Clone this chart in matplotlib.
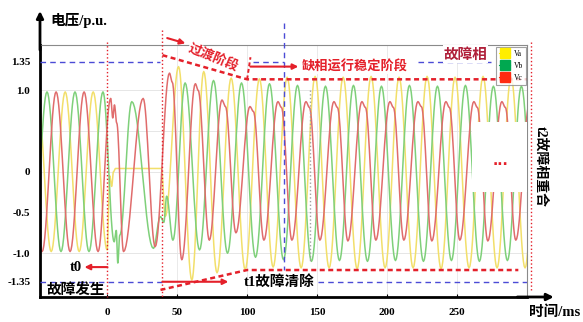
import numpy as np
import matplotlib
matplotlib.use('Agg')
import matplotlib.pyplot as plt
from matplotlib.lines import Line2D
from matplotlib.patches import Rectangle

CJK = 'Noto Sans CJK SC'
SERIF = 'Liberation Serif'
MIX = [SERIF, CJK]

# extreme points (time in ms, voltage in p.u.)
a_t = [-60, -50, -40, -30, -20, -10, 0, 1.8, 3.2, 4.5, 6, 38.8, 41.5,
       51, 60.5, 69, 78.5, 88.6, 98.6, 108.8,
       118.6, 128.6, 138.6, 148.6, 158.6, 168.6, 178.6, 188.6, 198.6, 208.6,
       218.6, 228.6, 238.6, 248.6, 258.6, 268.6, 278.6, 288.6, 298.6, 308.6]
a_v = [-0.98, 0.98, -0.98, 0.98, -0.98, 0.98, -0.96, -0.05, -0.18, 0.0, 0.04, 0.04, -0.55,
       1.29, -1.33, 1.23, -1.24, 1.15, -1.2, 1.14,
       -1.17, 1.16, -1.18, 1.17, -1.18, 1.16, -1.19, 1.17, -1.18, 1.16,
       -1.18, 1.17, -1.19, 1.16, -1.18, 1.17, -1.18, 1.16, -1.18, 1.16]

b_t = [-53, -43, -33, -23, -13, -3, 5, 6.5, 7.6, 9, 17.6, 33, 38, 40.5, 42.5, 47, 55.7,
       66, 76, 86, 96, 106, 116, 126, 136, 146, 156, 166, 176, 186, 196, 206,
       216, 226, 236, 246, 256, 266, 276, 286, 296, 306]
b_v = [-0.98, 0.98, -0.98, 0.98, -0.98, 0.98, -0.86, -0.72, -1.12, -0.78, 0.86, -0.94,
       -0.55, -0.62, -0.3, -0.84, 1.09,
       -0.96, 1.12, -1.0, 1.09, -1.05, 1.08, -1.08, 1.06, -1.1, 1.05, -1.09, 1.06, -1.1,
       1.05, -1.09, 1.06, -1.1, 1.05, -1.09, 1.06, -1.1, 1.05, -1.09, 1.05, -1.09]

c_t = [-56.5, -46.5, -36.5, -26.5, -16.5, -6.5,
       2.5, 4.0, 5.2, 6.8, 11.7, 25.7, 34.3,
       44.5, 46.5, 53.3, 63, 65, 73, 82, 84.5, 92, 102, 104.5, 112,
       122, 124.5, 132, 142, 144.5, 152, 162, 164.5, 172, 182, 184.5, 192,
       202, 204.5, 212, 222, 224.5, 232, 242, 244.5, 252, 262, 264.5, 272,
       282, 284.5, 292, 302, 304.5]
c_v = [0.98, -0.98, 0.98, -0.98, 0.98, -0.98,
       0.9, 0.66, 0.82, 0.6, -0.98, 0.9, -0.92,
       1.21, 1.1, -1.08, 1.08, 1.0, -0.84, 0.88, 0.8, -0.75, 0.8, 0.74, -0.84,
       0.86, 0.79, -0.84, 0.86, 0.79, -0.84, 0.86, 0.79, -0.85, 0.86, 0.79, -0.84,
       0.86, 0.79, -0.84, 0.86, 0.8, -0.85, 0.86, 0.79, -0.84, 0.86, 0.79, -0.85,
       0.86, 0.79, -0.84, 0.86, 0.79]

phases = ['Va', 'Vb', 'Vc']
line_colors = ['#f2df6a', '#7fd07a', '#e06c6c']
legend_colors = ['#ffee00', '#00a850', '#ff2a10']

t_fault = 0
t_clear = 39.5
t_stable = 126
t_reclose = 303

xticks = [0, 50, 100, 150, 200, 250]
yticks = [1.35, 1.0, 0, -0.5, -1.0, -1.35]
ytick_labels = ['1.35', '1.0', '0', '-0.5', '-1.0', '-1.35']

RED = '#e4202a'
BLUE = '#4b4bd6'


def smooth(ts, vs, n=16):
    assert len(ts) == len(vs)
    tt, vv = [], []
    for i in range(len(ts) - 1):
        s = np.linspace(0, 1, n, endpoint=False)
        w = (1 - np.cos(np.pi * s)) / 2
        tt.append(ts[i] + (ts[i + 1] - ts[i]) * s)
        vv.append(vs[i] + (vs[i + 1] - vs[i]) * w)
    tt.append([ts[-1]])
    vv.append([vs[-1]])
    return np.concatenate(tt), np.concatenate(vv)


fig = plt.figure(figsize=(5.83, 3.22), dpi=100)
ax = fig.add_axes([40 / 583, 25 / 322, 487 / 583, 252 / 322])
ax.set_xlim(-48, 300)
ax.set_ylim(-1.537, 1.555)

# faint grid
for g in [-1, -0.5, 0, 0.5, 1]:
    ax.axhline(g, color='#e2e2e2', lw=0.6, zorder=0)
for g in xticks[1:]:
    ax.axvline(g, color='#e6e6e6', lw=0.6, zorder=0)

for ts, vs, col in zip([a_t, b_t, c_t], [a_v, b_v, c_v], line_colors):
    x, y = smooth(ts, vs)
    ax.plot(x, y, color=col, lw=1.1, zorder=2)

# blank patch over the waveform
ax.add_patch(Rectangle((261, -0.25), 45, 0.86, facecolor='white', edgecolor='none', zorder=3))
ax.text(281, 0.13, '...', color=RED, fontsize=10, fontweight='bold', ha='center', va='center', zorder=4)

# reference levels
dash = (0, (4, 3))
for seg in [(-48, 38), (104, 126), (222, 274)]:
    ax.plot(seg, [1.35, 1.35], color=BLUE, lw=1, ls=dash, zorder=3)
for seg in [(-48, 39.5), (151, 300)]:
    ax.plot(seg, [-1.35, -1.35], color=BLUE, lw=1, ls=dash, zorder=3)
ax.plot([t_stable, t_stable], [1.82, -1.21], color=BLUE, lw=1, ls=dash, zorder=3, clip_on=False)
ax.plot([145, 145], [1.0, -1.12], color='#a0a0a0', lw=1, ls=':', zorder=3)

# event markers
ax.plot([t_fault, t_fault], [1.59, -1.537], color=RED, lw=1, ls=':', zorder=4, clip_on=False)
ax.plot([t_clear, t_clear], [1.74, -1.537], color=RED, lw=1, ls=':', zorder=4, clip_on=False)
ax.plot([t_reclose, t_reclose], [1.59, -1.48], color=RED, lw=1, ls=':', zorder=4, clip_on=False)

# envelope of the transition stage
env = (0, (2, 1.4))
ax.plot([t_clear, 100, 300], [1.43, 1.134, 1.134], color=RED, lw=1.8, ls=env, zorder=5)
ax.plot([100, 102.4], [1.134, 1.405], color=RED, lw=1.4, ls=env, zorder=5)
ax.plot([38.1, 100, 293.8], [-1.45, -1.206, -1.206], color=RED, lw=1.8, ls=env, zorder=5, clip_on=False)

arrow = dict(arrowstyle='-|>', color=RED, lw=1.5, mutation_scale=8, shrinkA=0, shrinkB=0)
ax.annotate('', xy=(-16.2, -1.17), xytext=(0.2, -1.17), arrowprops=arrow, zorder=6)
ax.annotate('', xy=(86.6, -1.35), xytext=(t_clear, -1.35), arrowprops=arrow, zorder=6)
ax.annotate('', xy=(136.6, 1.29), xytext=(102.4, 1.29), arrowprops=arrow, zorder=6)
ax.annotate('', xy=(55.9, 1.575), xytext=(42.9, 1.64), arrowprops=arrow, zorder=6,
            annotation_clip=False)

# labels
bold = dict(fontweight='bold')
white = dict(facecolor='white', edgecolor='none', pad=0.5)
ax.text(76, 1.395, '过渡阶段', color=RED, fontsize=9.5, family=CJK, rotation=-22,
        ha='center', va='center', bbox=white, zorder=4, **bold)
ax.text(139, 1.29, '缺相运行稳定阶段', color=RED, fontsize=9.5, family=CJK,
        ha='left', va='center', bbox=white, zorder=4, **bold)
ax.text(256, 1.445, '故障相', color='#b0203a', fontsize=10.5, family=CJK,
        ha='center', va='center', bbox=white, zorder=4, **bold)
ax.text(-22.5, -1.17, 't0', color='black', fontsize=10.5, family=SERIF,
        ha='center', va='center', zorder=6, **bold)
ax.text(-22.5, -1.445, '故障发生', color='black', fontsize=10.5, family=CJK,
        ha='center', va='center', zorder=6, **bold)
ax.text(123, -1.35, 't1故障清除', color='black', fontsize=10.5, family=MIX,
        ha='center', va='center', zorder=6, **bold)
ax.text(309.5, 0.06, 't2故障相重合', color='black', fontsize=10, family=MIX,
        rotation=-90, ha='center', va='center', **bold)

fig.text(50 / 583, 1 - 20 / 322, '电压/p.u.', fontsize=10.5, family=MIX,
         ha='left', va='center', **bold)
fig.text(555 / 583, 1 - 312 / 322, '时间/ms', fontsize=10.5, family=MIX,
         ha='center', va='center', **bold)

# axes frame
for side in ['top', 'right']:
    ax.spines[side].set_color('#8a8a8a')
    ax.spines[side].set_linewidth(0.8)
for side in ['left', 'bottom']:
    ax.spines[side].set_color('black')
    ax.spines[side].set_linewidth(2)
ax.annotate('', xy=(0, 1.135), xycoords='axes fraction', xytext=(0, 0.98),
            arrowprops=dict(arrowstyle='-|>', lw=2, color='black', mutation_scale=10, shrinkA=0, shrinkB=0),
            annotation_clip=False)
ax.annotate('', xy=(1.055, 0), xycoords='axes fraction', xytext=(0.98, 0),
            arrowprops=dict(arrowstyle='-|>', lw=2, color='black', mutation_scale=10, shrinkA=0, shrinkB=0),
            annotation_clip=False)

ax.set_xticks(xticks)
ax.set_xticklabels([str(v) for v in xticks], family=SERIF, fontweight='bold', fontsize=8)
ax.set_yticks(yticks)
ax.set_yticklabels(ytick_labels, family=SERIF, fontweight='bold', fontsize=8)
ax.tick_params(axis='x', length=2, direction='in', pad=8)
ax.tick_params(axis='y', length=0, pad=7)

handles = [Line2D([], [], color=c, marker='s', markersize=7, lw=0.8) for c in legend_colors]
leg = ax.legend(handles, phases, loc='upper right', bbox_to_anchor=(1.0, 0.995),
                prop={'family': SERIF, 'size': 5.5}, frameon=True, fancybox=False,
                edgecolor='#8a8a8a', borderpad=0.35, labelspacing=0.55,
                handlelength=1.5, handletextpad=0.5, borderaxespad=0.1)
leg.set_zorder(7)
leg.get_frame().set_linewidth(0.8)

fig.savefig('out.png', dpi=100)
